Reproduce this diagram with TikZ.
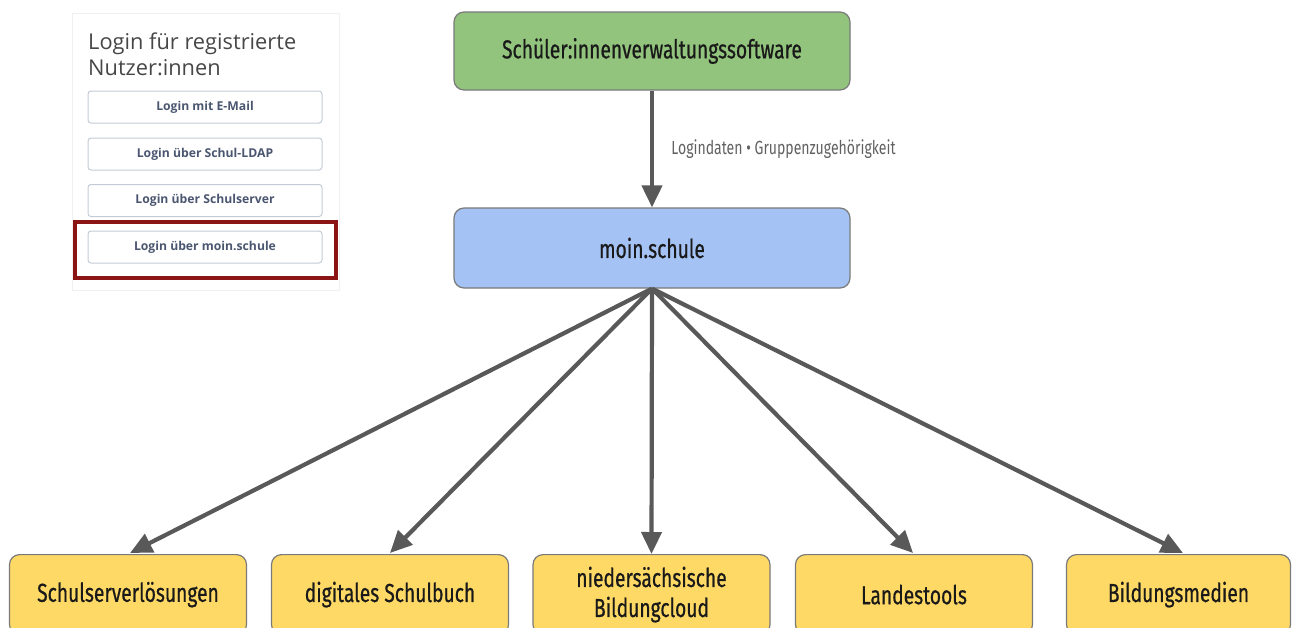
\documentclass[tikz,border=0pt]{standalone}
\usepackage{fontspec}
\setmainfont{Fira Sans}[FakeStretch=0.74, FakeBold=0.6]
\newfontfamily\labelfont{Fira Sans}[FakeStretch=0.74]
\newfontfamily\panelfont{Open Sans}
\usetikzlibrary{arrows.meta}
\definecolor{boxgreen}{HTML}{93C47D}
\definecolor{boxblue}{HTML}{A4C2F4}
\definecolor{boxyellow}{HTML}{FFD966}
\definecolor{edgegray}{HTML}{7A7A7A}
\definecolor{arrowgray}{HTML}{595959}
\definecolor{btntext}{HTML}{4A5670}
\definecolor{btnborder}{HTML}{C3CBD6}
\definecolor{darkred}{HTML}{8B1414}
\tikzset{
  mainbox/.style={draw=edgegray, line width=1.2pt, rounded corners=10pt, minimum height=78pt, align=center, font=\fontsize{26}{30}\selectfont, text=black!90, inner sep=0pt},
  bottombox/.style={mainbox, fill=boxyellow, minimum width=236pt, minimum height=80pt, anchor=north},
  flow/.style={draw=arrowgray, line width=4.2pt, -{Triangle[length=22pt,width=20pt]}, shorten >=0pt},
  btn/.style={draw=btnborder, line width=1pt, rounded corners=3pt, minimum width=234pt, minimum height=32pt, inner sep=0pt, font=\panelfont\bfseries\fontsize{12.2}{13}\selectfont, text=btntext},
}
\begin{document}
\begin{tikzpicture}[x=1pt,y=-1pt]
\useasboundingbox (0,0) rectangle (1293,627);
\clip (0,0) rectangle (1293,627);
% login panel
\node[draw=black!6, line width=0.8pt, minimum width=267pt, minimum height=277pt, anchor=north west, inner sep=0pt] (panel) at (72,13) {};
\node[anchor=north west, align=left, font=\panelfont\fontsize{21.8}{26}\selectfont, text=black!72, inner sep=0pt] (title) at (88,33) {Login für registrierte\\Nutzer:innen};
\node[btn] (b1) at (205,107) {Login mit E-Mail};
\node[btn] (b2) at (205,154) {Login über Schul-LDAP};
\node[btn] (b3) at (205,200.5) {Login über Schulserver};
\node[btn] (b4) at (205,247) {Login über moin.schule};
\node[draw=darkred, line width=3.5pt, minimum width=261pt, minimum height=56pt, inner sep=0pt] (hl) at (205.5,250) {};
% main boxes
\node[mainbox, fill=boxgreen, minimum width=396pt] (svs) at (652,51) {Schüler:innenverwaltungssoftware};
\node[mainbox, fill=boxblue, minimum width=396pt, minimum height=80pt] (moin) at (652,248) {moin.schule};
\node[bottombox, minimum width=237pt] (s1) at (128,554) {Schulserverlösungen};
\node[bottombox, minimum width=237pt] (s2) at (390,554) {digitales Schulbuch};
\node[bottombox, minimum width=237pt] (s3) at (651.5,554) {niedersächsische\\Bildungcloud};
\node[bottombox, minimum width=237pt] (s4) at (914,554) {Landestools};
\node[bottombox, minimum width=224pt] (s5) at (1178.5,554) {Bildungsmedien};
% arrows
\draw[flow] (svs.south) -- node[right, xshift=14pt, font=\labelfont\fontsize{19}{22}\selectfont, text=black!62] (lbl) {Logindaten • Gruppenzugehörigkeit} (moin.north);
\coordinate (t1) at (130,553);
\coordinate (t2) at (390,553);
\coordinate (t4) at (913,553);
\coordinate (t5) at (1183,553);
\draw[flow] (moin.south) -- (t1);
\draw[flow] (moin.south) -- (t2);
\draw[flow] (moin.south) -- (s3.north);
\draw[flow] (moin.south) -- (t4);
\draw[flow] (moin.south) -- (t5);
\end{tikzpicture}
\end{document}
